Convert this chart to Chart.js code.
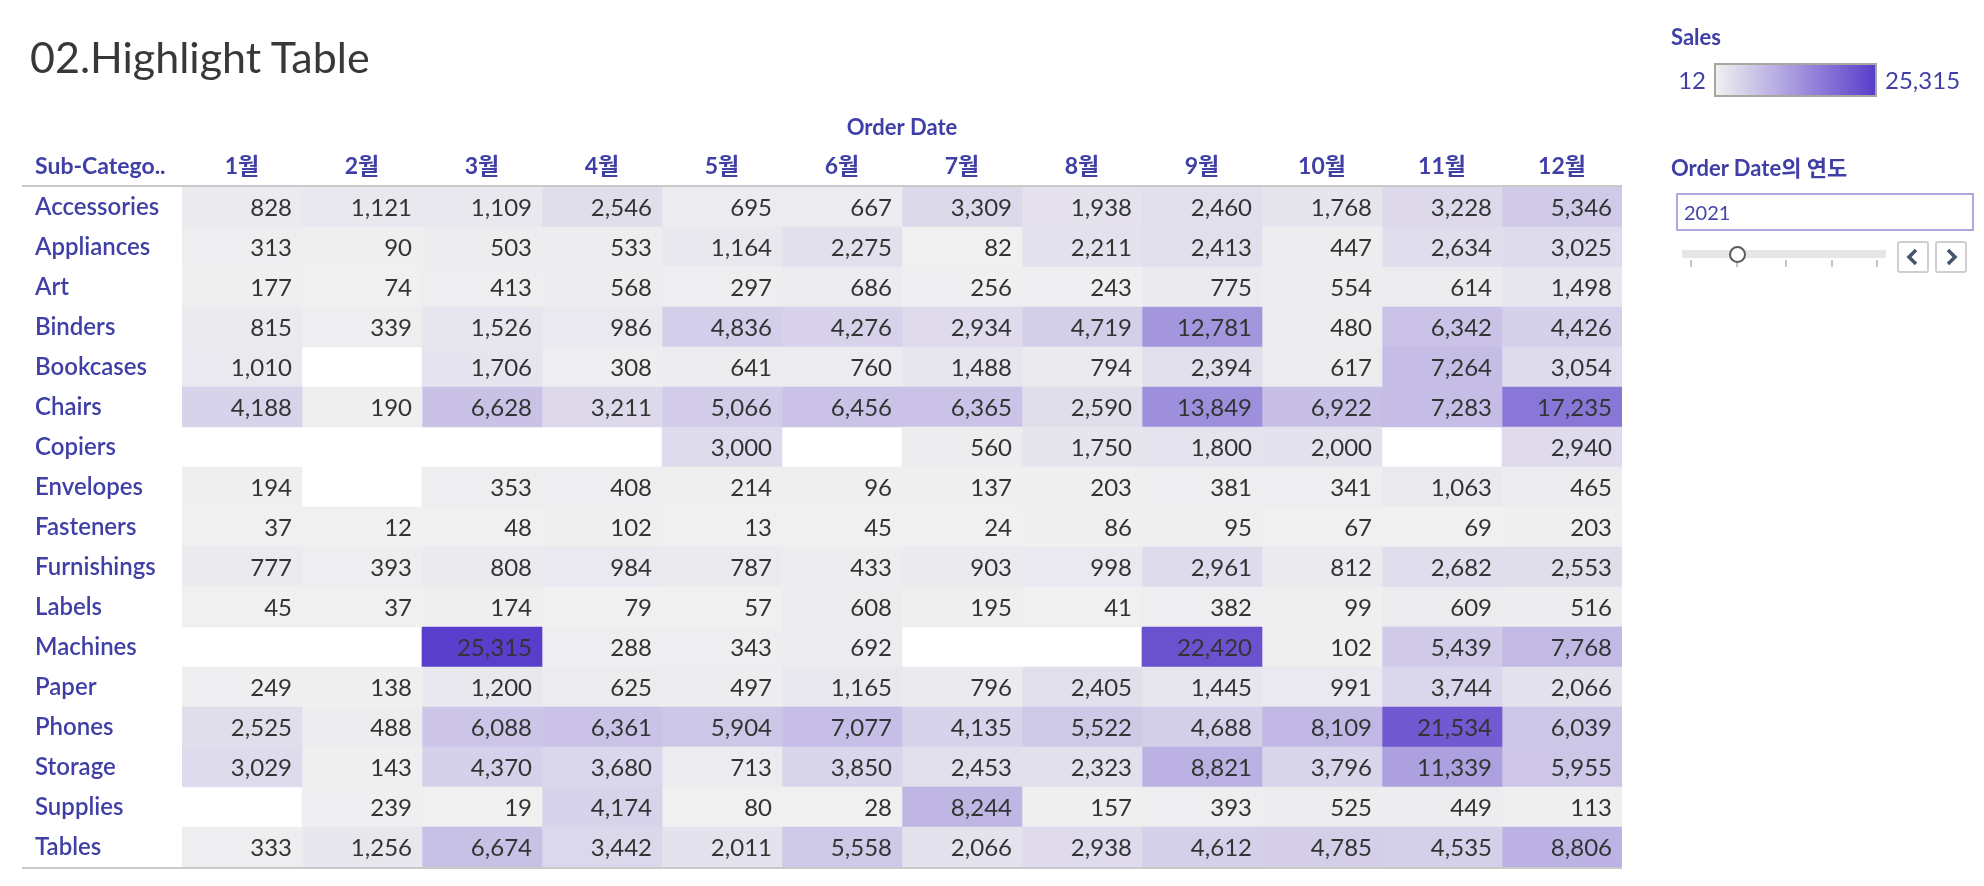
<!DOCTYPE html>
<html>
<head>
<meta charset="utf-8">
<script src="https://cdn.jsdelivr.net/npm/chart.js@4"></script>
<style>
    html, body { margin: 0; padding: 0; background: #fff; }
    #wrap { position: relative; width: 1984px; height: 886px; overflow: hidden; font-family: Lato, 'Noto Sans CJK KR', sans-serif; }
    #chart { position: absolute; left: 0; top: 0; }
    .abs { position: absolute; white-space: nowrap; }
    .title { left: 30px; top: 33px; font-size: 43px; font-weight: 400; color: #383838; line-height: 48px; }
    .panel-h { font-size: 22px; font-weight: 700; color: #3f3fa6; line-height: 26px; }
    .leg-num { font-size: 24px; color: #3f3fa6; line-height: 28px; }
    #ramp { left: 1714px; top: 63px; width: 159px; height: 30px; border: 2px solid #aaa69c;
            background: linear-gradient(to right, #f0f0f0, #593ecb); }
    #yearBox { left: 1676px; top: 193px; width: 288px; height: 34px; border: 2px solid #aeaadb;
               font-size: 20px; color: #4545a8; line-height: 34px; padding-left: 6px; box-sizing: content-box; }
    #track { left: 1682px; top: 250px; width: 204px; height: 8px; background: #e6e6e6; }
    #knob { left: 1729px; top: 246px; width: 13px; height: 13px; border: 2px solid #5a5a5a; border-radius: 50%; background: #fff; }
    .tick { top: 260px; width: 2px; height: 7px; background: #c4c4c4; }
    .btn { top: 241px; width: 28px; height: 28px; border: 2px solid #cfcfcf; border-radius: 3px; background: #fff; }
    .btn svg { display: block; }
</style>
</head>
<body>
<div id="wrap">
    <canvas id="chart" width="1984" height="886"></canvas>

    <div class="abs title">02.Highlight Table</div>

    <!-- legend -->
    <div class="abs panel-h" style="left:1671px; top:24px;">Sales</div>
    <div class="abs leg-num" id="legMin" style="right:278px; top:66px;"></div>
    <div class="abs" id="ramp"></div>
    <div class="abs leg-num" id="legMax" style="left:1885px; top:66px;"></div>

    <!-- year filter -->
    <div class="abs panel-h" style="left:1671px; top:155px;">Order Date의 연도</div>
    <div class="abs" id="yearBox">2021</div>
    <div class="abs" id="track"></div>
    <div class="abs tick" style="left:1690px;"></div>
    <div class="abs tick" style="left:1736px;"></div>
    <div class="abs tick" style="left:1785px;"></div>
    <div class="abs tick" style="left:1831px;"></div>
    <div class="abs tick" style="left:1876px;"></div>
    <div class="abs" id="knob"></div>
    <div class="abs btn" style="left:1897px;">
        <svg width="28" height="28"><polyline points="17,7 10,14 17,21" fill="none" stroke="#44546a" stroke-width="3.5"/></svg>
    </div>
    <div class="abs btn" style="left:1935px;">
        <svg width="28" height="28"><polyline points="11,7 18,14 11,21" fill="none" stroke="#44546a" stroke-width="3.5"/></svg>
    </div>
</div>

<script>
// ─── Data ────────────────────────────────────────────────────────────────────

const months = ['1월', '2월', '3월', '4월', '5월', '6월', '7월', '8월', '9월', '10월', '11월', '12월'];

const subCategories = [
    'Accessories', 'Appliances', 'Art', 'Binders', 'Bookcases', 'Chairs', 'Copiers', 'Envelopes',
    'Fasteners', 'Furnishings', 'Labels', 'Machines', 'Paper', 'Phones', 'Storage', 'Supplies', 'Tables',
];

// monthly sales per sub-category (null = no sales that month)
const accessories = [828, 1121, 1109, 2546, 695, 667, 3309, 1938, 2460, 1768, 3228, 5346];
const appliances  = [313, 90, 503, 533, 1164, 2275, 82, 2211, 2413, 447, 2634, 3025];
const art         = [177, 74, 413, 568, 297, 686, 256, 243, 775, 554, 614, 1498];
const binders     = [815, 339, 1526, 986, 4836, 4276, 2934, 4719, 12781, 480, 6342, 4426];
const bookcases   = [1010, null, 1706, 308, 641, 760, 1488, 794, 2394, 617, 7264, 3054];
const chairs      = [4188, 190, 6628, 3211, 5066, 6456, 6365, 2590, 13849, 6922, 7283, 17235];
const copiers     = [null, null, null, null, 3000, null, 560, 1750, 1800, 2000, null, 2940];
const envelopes   = [194, null, 353, 408, 214, 96, 137, 203, 381, 341, 1063, 465];
const fasteners   = [37, 12, 48, 102, 13, 45, 24, 86, 95, 67, 69, 203];
const furnishings = [777, 393, 808, 984, 787, 433, 903, 998, 2961, 812, 2682, 2553];
const labels      = [45, 37, 174, 79, 57, 608, 195, 41, 382, 99, 609, 516];
const machines    = [null, null, 25315, 288, 343, 692, null, null, 22420, 102, 5439, 7768];
const paper       = [249, 138, 1200, 625, 497, 1165, 796, 2405, 1445, 991, 3744, 2066];
const phones      = [2525, 488, 6088, 6361, 5904, 7077, 4135, 5522, 4688, 8109, 21534, 6039];
const storage     = [3029, 143, 4370, 3680, 713, 3850, 2453, 2323, 8821, 3796, 11339, 5955];
const supplies    = [null, 239, 19, 4174, 80, 28, 8244, 157, 393, 525, 449, 113];
const tables      = [333, 1256, 6674, 3442, 2011, 5558, 2066, 2938, 4612, 4785, 4535, 8806];

const sales = [
    accessories, appliances, art, binders, bookcases, chairs, copiers, envelopes,
    fasteners, furnishings, labels, machines, paper, phones, storage, supplies, tables,
];

// ─── Colour scale ────────────────────────────────────────────────────────────

const LABEL_COLOR = '#3f3fa6';
const LOW  = [240, 240, 240];
const HIGH = [89, 62, 203];

const allValues = sales.flat().filter(v => v != null);
const vMin = Math.min(...allValues);
const vMax = Math.max(...allValues);

function cellColor(v) {
    if (v == null) return 'rgba(0,0,0,0)';
    const t = (v - vMin) / (vMax - vMin);
    const c = LOW.map((lo, i) => Math.round(lo + (HIGH[i] - lo) * t));
    return `rgb(${c[0]},${c[1]},${c[2]})`;
}

const fmt = v => v.toLocaleString('en-US');

document.getElementById('legMin').textContent = fmt(vMin);
document.getElementById('legMax').textContent = fmt(vMax);

// ─── Layout (px) ─────────────────────────────────────────────────────────────

const AREA = { left: 182, right: 1622, top: 187, bottom: 867 };
const LEFT_PAD = 35;
const TOP_PAD  = 100;
const FONT = "Lato, 'Noto Sans CJK KR', sans-serif";

// one dataset per month: floating bar [m-0.5, m+0.5] on each sub-category row
const datasets = months.map((m, mi) => ({
    label: m,
    data: sales.map(row => row[mi] == null ? null : [mi - 0.5, mi + 0.5]),
    backgroundColor: sales.map(row => cellColor(row[mi])),
    borderWidth: 0,
    barPercentage: 1,
    categoryPercentage: 1,
}));

const cellText = {
    id: 'cellText',
    afterDatasetsDraw(chart) {
        const ctx = chart.ctx;
        ctx.save();
        ctx.font = `24px ${FONT}`;
        ctx.fillStyle = '#333';
        ctx.textAlign = 'right';
        ctx.textBaseline = 'middle';
        chart.data.datasets.forEach((ds, mi) => {
            const meta = chart.getDatasetMeta(mi);
            meta.data.forEach((el, ri) => {
                const v = sales[ri][mi];
                if (v == null) return;
                const right = Math.max(el.x, el.base);
                ctx.fillText(fmt(v), right - 10, el.y + 1);
            });
        });
        ctx.restore();
    },
};

const frame = {
    id: 'frame',
    afterDraw(chart) {
        const ctx = chart.ctx;
        const a = chart.chartArea;
        ctx.save();
        ctx.strokeStyle = '#c9c9c9';
        ctx.lineWidth = 2;
        ctx.beginPath();
        ctx.moveTo(22, a.top - 1);    ctx.lineTo(a.right, a.top - 1);
        ctx.moveTo(22, a.bottom + 1); ctx.lineTo(a.right, a.bottom + 1);
        ctx.stroke();

        ctx.font = `700 23px ${FONT}`;
        ctx.fillStyle = LABEL_COLOR;
        ctx.textAlign = 'left';
        ctx.textBaseline = 'middle';
        ctx.fillText('Sub-Catego..', LEFT_PAD, 167);
        ctx.restore();
    },
};

new Chart(document.getElementById('chart'), {
    type: 'bar',
    data: { labels: subCategories, datasets },
    plugins: [cellText, frame],
    options: {
        indexAxis: 'y',
        responsive: false,
        animation: false,
        grouped: false,
        layout: {
            padding: { left: LEFT_PAD, right: 1984 - AREA.right, top: TOP_PAD, bottom: 886 - AREA.bottom },
        },
        plugins: {
            legend:  { display: false },
            tooltip: { enabled: false },
        },
        scales: {
            x: {
                type: 'linear',
                position: 'top',
                min: -0.5,
                max: 11.5,
                afterBuildTicks: s => { s.ticks = months.map((m, i) => ({ value: i })); },
                afterFit: s => { s.height = AREA.top - TOP_PAD; },
                ticks: {
                    callback: v => months[v],
                    color: LABEL_COLOR,
                    font: { size: 23, weight: '700', family: FONT },
                    padding: 7,
                    maxRotation: 0,
                    autoSkip: false,
                },
                title: {
                    display: true,
                    text: 'Order Date',
                    color: LABEL_COLOR,
                    font: { size: 22, weight: '700', family: FONT },
                    padding: { top: 15, bottom: 0 },
                },
                grid:   { display: false, drawTicks: false },
                border: { display: false },
            },
            y: {
                type: 'category',
                afterFit: s => { s.width = AREA.left - LEFT_PAD; },
                ticks: {
                    crossAlign: 'far',
                    color: LABEL_COLOR,
                    font: { size: 24, weight: '600', family: FONT },
                    autoSkip: false,
                },
                grid:   { display: false, drawTicks: false },
                border: { display: false },
            },
        },
    },
});
</script>
</body>
</html>
